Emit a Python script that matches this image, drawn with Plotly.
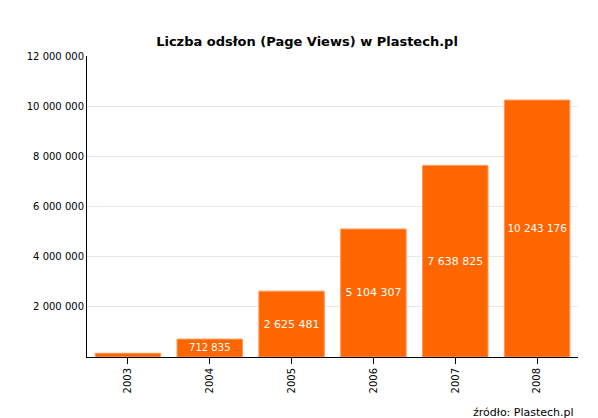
import plotly.graph_objects as go

years = ['2003', '2004', '2005', '2006', '2007', '2008']
views = [150000, 712835, 2625481, 5104307, 7638825, 10243176]
labels = ['', '712 835', '2 625 481', '5 104 307', '7 638 825', '10 243 176']
tick_vals = [0, 2000000, 4000000, 6000000, 8000000, 10000000, 12000000]
tick_text = ['', '2 000 000', '4 000 000', '6 000 000', '8 000 000', '10 000 000', '12 000 000']

fig = go.Figure()
fig.add_trace(go.Bar(
    x=years, y=views, text=labels,
    textposition='inside', insidetextanchor='middle', textangle=0,
    textfont=dict(color='white', size=11),
    marker=dict(color='#ff6600', line=dict(color='#ff9955', width=1)),
    width=0.8,
))

fig.update_layout(
    title=dict(text='<b>Liczba odsłon (Page Views) w Plastech.pl</b>', x=0.5, y=0.93,
               font=dict(family='DejaVu Sans', size=13, color='black')),
    width=598, height=418,
    margin=dict(l=79, r=28, t=48, b=69, autoexpand=False),
    paper_bgcolor='white', plot_bgcolor='white',
    font=dict(family='DejaVu Sans', size=10, color='black'),
    showlegend=False,
    bargap=0.2,
    xaxis=dict(tickangle=-90, showline=True, linecolor='black', ticks='outside',
               ticklen=6, tickcolor='black', automargin=False),
    yaxis=dict(range=[0, 12000000], tickvals=tick_vals, ticktext=tick_text,
               showgrid=True, gridcolor='#e8e8e8', showline=True, linecolor='black',
               zeroline=False, automargin=False),
)
fig.add_annotation(text='źródło: Plastech.pl', xref='paper', yref='paper',
                   x=0.995, y=-0.185, xanchor='right', yanchor='middle', showarrow=False,
                   font=dict(size=11))

fig.write_html('out.html')
